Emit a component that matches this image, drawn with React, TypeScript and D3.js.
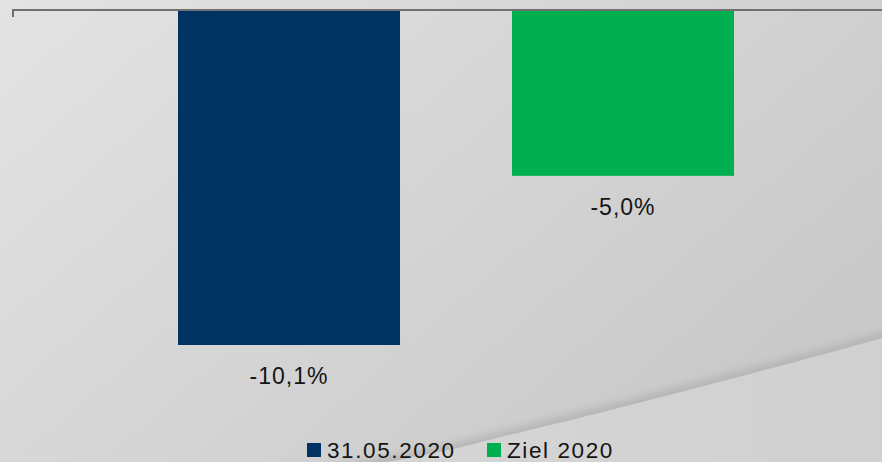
import React from "react";
import * as d3 from "d3";

const categories = ["31.05.2020", "Ziel 2020"];
const values = [-10.1, -5.0];
const valueLabels = ["-10,1%", "-5,0%"];
const colors = ["#003262", "#00b050"];

const W = 882;
const H = 462;

export default function App() {
  const x = d3
    .scaleBand<string>()
    .domain(categories)
    .range([122, 790])
    .paddingInner(0.3353)
    .paddingOuter(0.1677);
  const y = d3.scaleLinear().domain([0, -10.1]).range([10, 345]);

  const curvePts: [number, number][] = [
    [330, 472],
    [410, 458],
    [460, 448],
    [500, 437],
    [600, 413],
    [700, 387],
    [800, 361],
    [882, 338],
    [900, 333],
  ];
  const line = d3.line().curve(d3.curveBasis);
  const curveD = line(curvePts) || "";
  const lowerArea = curveD + " L 900 480 L 330 480 Z";

  return (
    <div style={{ position: "absolute", left: 0, top: 0 }}>
      <svg width={W} height={H} style={{ display: "block" }}>
        <defs>
          <linearGradient id="bg" x1="0" y1="0" x2="1" y2="0.6">
            <stop offset="0" stopColor="#e3e3e3" />
            <stop offset="0.5" stopColor="#d6d6d6" />
            <stop offset="1" stopColor="#c9c9c9" />
          </linearGradient>
          <linearGradient id="low" x1="0" y1="0" x2="1" y2="0">
            <stop offset="0" stopColor="#d6d6d6" />
            <stop offset="1" stopColor="#d0d0d0" />
          </linearGradient>
          <filter id="blur" x="-0.1" y="-0.5" width="1.2" height="2">
            <feGaussianBlur stdDeviation="4" />
          </filter>
        </defs>
        <rect x={0} y={0} width={W} height={H} fill="url(#bg)" />
        <path
          d={curveD}
          fill="none"
          stroke="#a8a8a8"
          strokeWidth={10}
          filter="url(#blur)"
          opacity={0.7}
        />
        <path d={lowerArea} fill="url(#low)" />
        {categories.map((c, i) => {
          const v = values[i];
          return (
            <rect
              key={c}
              x={x(c)}
              y={y(0)}
              width={x.bandwidth()}
              height={y(v) - y(0)}
              fill={colors[i]}
            />
          );
        })}
        <line x1={12} x2={882} y1={10} y2={10} stroke="#707070" strokeWidth={2} />
        <line x1={13} x2={13} y1={10} y2={17} stroke="#707070" strokeWidth={2} />
        {categories.map((c, i) => (
          <text
            key={c}
            x={(x(c) || 0) + x.bandwidth() / 2}
            y={y(values[i]) + 39}
            textAnchor="middle"
            fontFamily="'Liberation Sans', Arial, sans-serif"
            fontSize={23}
            letterSpacing={1}
            fill="#141414"
          >
            {valueLabels[i]}
          </text>
        ))}
        {/* legend */}
        <rect x={307} y={443} width={14} height={14} fill={colors[0]} />
        <text
          x={327}
          y={458}
          fontFamily="'Liberation Sans', Arial, sans-serif"
          fontSize={22.5}
          letterSpacing={1.6}
          fill="#141414"
        >
          {categories[0]}
        </text>
        <rect x={487} y={443} width={14} height={14} fill={colors[1]} />
        <text
          x={507}
          y={458}
          fontFamily="'Liberation Sans', Arial, sans-serif"
          fontSize={22.5}
          letterSpacing={1.6}
          fill="#141414"
        >
          {categories[1]}
        </text>
      </svg>
    </div>
  );
}
